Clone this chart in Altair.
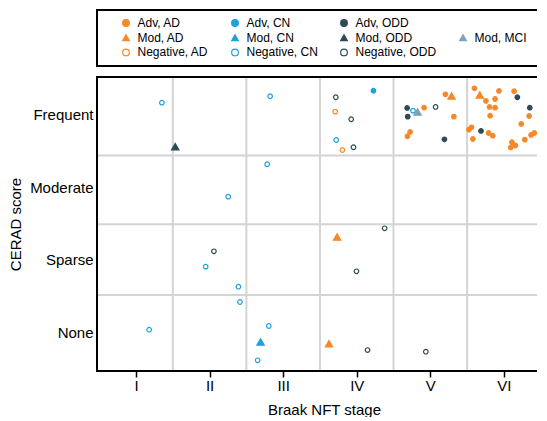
import json
import altair as alt
import pandas as pd

# ---------------- data ----------------
stage_labels = ["I", "II", "III", "IV", "V", "VI"]
cerad_labels = ["None", "Sparse", "Moderate", "Frequent"]

legend_order = ["Adv, AD", "Adv, CN", "Adv, ODD", " ",
                "Mod, AD", "Mod, CN", "Mod, ODD", "Mod, MCI",
                "Negative, AD", "Negative, CN", "Negative, ODD"]

AD, CN, ODD, MCI = "#f5892a", "#1ea1dd", "#2d4b57", "#7ba3b8"
fill_colors = [AD, CN, ODD, "transparent", AD, CN, ODD, MCI, "white", "white", "white"]
stroke_colors = [AD, CN, ODD, "transparent", AD, CN, ODD, MCI, AD, CN, ODD]
shapes = ["circle"] * 4 + ["triangle-up"] * 4 + ["circle"] * 3

# Braak stage (x) and CERAD score (y) positions, jittered as in the picture
neg_cn_x = [1.352, 2.823, 3.720, 4.765, 2.783, 2.253, 1.947, 2.392, 2.413, 1.179, 2.805, 2.653]
neg_cn_y = [4.170, 4.259, 3.654, 4.060, 3.319, 2.871, 1.903, 1.626, 1.415, 1.032, 1.083, 0.609]
neg_ad_x = [3.707, 3.805]
neg_ad_y = [4.046, 3.516]
neg_odd_x = [3.716, 3.925, 3.956, 5.072, 4.379, 2.059, 3.996, 4.147, 4.939]
neg_odd_y = [4.245, 3.941, 3.554, 4.111, 2.434, 2.116, 1.839, 0.751, 0.728]
adv_cn_x = [4.227]
adv_cn_y = [4.336]
adv_odd_x = [4.685, 4.693, 5.192, 6.183, 6.352, 5.689]
adv_odd_y = [4.097, 3.977, 3.664, 4.245, 4.101, 3.779]
adv_ad_x = [4.916, 5.205, 5.320, 4.725, 4.689,
            5.600, 5.933, 6.139, 5.880, 5.756, 5.805, 5.880, 5.813, 6.343, 6.236,
            5.560, 5.525, 5.792, 5.849, 5.579, 6.285, 6.369, 6.413, 6.109, 6.156, 6.093]
adv_ad_y = [4.101, 4.286, 3.977, 3.765, 3.706,
            4.369, 4.332, 4.328, 4.221, 4.194, 4.111, 4.101, 3.990, 3.986, 3.876,
            3.830, 3.797, 3.751, 3.714, 3.668, 3.659, 3.724, 3.751, 3.623, 3.578, 3.551]
mod_odd_x = [1.533]
mod_odd_y = [3.562]
mod_mci_x = [4.827]
mod_mci_y = [4.041]
mod_ad_x = [5.289, 5.672, 3.733, 3.623]
mod_ad_y = [4.263, 4.277, 2.313, 0.838]
mod_cn_x = [2.693]
mod_cn_y = [0.862]

x_bounds = [1.5, 2.5, 3.5, 4.5, 5.5]
y_bounds = [1.51, 2.49, 3.44]

series = [
    ("Negative, CN", neg_cn_x, neg_cn_y),
    ("Negative, AD", neg_ad_x, neg_ad_y),
    ("Negative, ODD", neg_odd_x, neg_odd_y),
    ("Adv, CN", adv_cn_x, adv_cn_y),
    ("Adv, ODD", adv_odd_x, adv_odd_y),
    ("Adv, AD", adv_ad_x, adv_ad_y),
    ("Mod, ODD", mod_odd_x, mod_odd_y),
    ("Mod, MCI", mod_mci_x, mod_mci_y),
    ("Mod, AD", mod_ad_x, mod_ad_y),
    ("Mod, CN", mod_cn_x, mod_cn_y),
]
rows = []
for name, xs, ys in series:
    for xv, yv in zip(xs, ys):
        rows.append({"group": name, "braak": xv, "cerad": yv})
df = pd.DataFrame(rows)
is_tri = df["group"].str.startswith("Mod")
df_circ = df[~is_tri]
df_tri = df[is_tri]

# ---------------- chart ----------------
FONT = "Liberation Sans"
W, H = 440, 294
xscale = alt.Scale(domain=[0.47, 6.45], nice=False, zero=False)
yscale = alt.Scale(domain=[0.461, 4.525], nice=False, zero=False)

x_axis = alt.Axis(values=[1, 2, 3, 4, 5, 6],
                  labelExpr=json.dumps(stage_labels) + "[datum.value - 1]",
                  grid=False, domain=False, ticks=True, tickSize=6, tickWidth=1.5,
                  tickColor="black", labelPadding=1, titlePadding=9, titleX=227)
y_axis = alt.Axis(values=[1, 2, 3, 4],
                  labelExpr=json.dumps(cerad_labels) + "[datum.value - 1]",
                  grid=False, domain=False, ticks=False, labelPadding=4, titlePadding=6)

X_T = "Braak NFT stage"
Y_T = "CERAD score"

grid_x = alt.Chart(pd.DataFrame({"b": x_bounds})).mark_rule(
    color="#d4d4d4", strokeWidth=2).encode(
    x=alt.X("b:Q", scale=xscale, axis=x_axis, title=X_T))
grid_y = alt.Chart(pd.DataFrame({"b": y_bounds})).mark_rule(
    color="#d4d4d4", strokeWidth=2).encode(
    y=alt.Y("b:Q", scale=yscale, axis=y_axis, title=Y_T))

# frame (left/top/bottom, open to the right as in the cropped original) and legend box
deco = pd.DataFrame({"part": ["frame"]})


def hline(y):
    return alt.Chart(deco).mark_rule(color="black", strokeWidth=2).encode(
        x=alt.value(-1), x2=alt.value(W), y=alt.value(y))


def vline(y, y2):
    return alt.Chart(deco).mark_rule(color="black", strokeWidth=2).encode(
        x=alt.value(0), y=alt.value(y), y2=alt.value(y2))


frame = [hline(0), hline(H), vline(-1, H + 1),
         hline(-67), hline(-11), vline(-68, -10)]

leg = alt.Legend(title=None)


def point_layer(data, size):
    return alt.Chart(data).mark_point(filled=False, strokeWidth=1.2, opacity=1, size=size).encode(
        x=alt.X("braak:Q", scale=xscale, axis=x_axis, title=X_T),
        y=alt.Y("cerad:Q", scale=yscale, axis=y_axis, title=Y_T),
        fill=alt.Fill("group:N", scale=alt.Scale(domain=legend_order, range=fill_colors), legend=leg),
        stroke=alt.Stroke("group:N", scale=alt.Scale(domain=legend_order, range=stroke_colors), legend=leg),
        shape=alt.Shape("group:N", scale=alt.Scale(domain=legend_order, range=shapes), legend=leg),
    )


circles = point_layer(df_circ, 21)
triangles = point_layer(df_tri, 55)

chart = alt.layer(grid_x, grid_y, *frame, circles, triangles).properties(
    width=W, height=H,
    padding={"left": 0, "top": 0, "right": 0, "bottom": 0},
).configure_view(
    strokeWidth=0
).configure_axis(
    labelFont=FONT, titleFont=FONT, labelFontSize=15, titleFontSize=15,
    labelColor="black", titleColor="black", titleFontWeight="normal"
).configure_legend(
    orient="none", legendX=23, legendY=-60, columns=4, direction="horizontal",
    columnPadding=20, rowPadding=2.7, labelFont=FONT, labelFontSize=12,
    labelColor="black", labelOffset=5.5, symbolSize=45, symbolStrokeWidth=1.2,
    padding=0
)

chart.save("out.html", embed_options={"renderer": "svg", "actions": False})
